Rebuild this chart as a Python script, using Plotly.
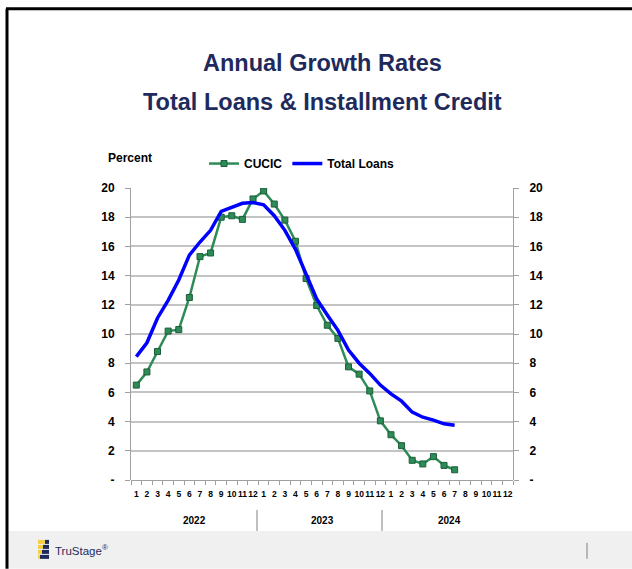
import plotly.graph_objects as go

# ---------------- data ----------------
years = ["2022", "2023", "2024"]
months = [str(m) for m in range(1, 13)]
tick_labels = months * 3
y_tick_vals = [0, 2, 4, 6, 8, 10, 12, 14, 16, 18, 20]
y_tick_text = ["-", "2", "4", "6", "8", "10", "12", "14", "16", "18", "20"]

cucic = [6.5, 7.4, 8.8, 10.2, 10.3, 12.5, 15.3, 15.55, 18.0, 18.1, 17.85, 19.25,
         19.8, 18.9, 17.8, 16.35, 13.8, 11.95, 10.6, 9.7, 7.75, 7.25, 6.1, 4.05,
         3.1, 2.35, 1.35, 1.1, 1.6, 1.0, 0.7]
total_loans = [8.45, 9.4, 11.1, 12.3, 13.7, 15.4, 16.3, 17.1, 18.4, 18.65, 18.95, 19.0,
               18.85, 18.1, 17.1, 15.8, 14.1, 12.4, 11.3, 10.25, 8.9, 8.0, 7.3, 6.5,
               5.9, 5.4, 4.65, 4.3, 4.1, 3.85, 3.75]

x_idx = list(range(len(cucic)))

# ---------------- geometry helpers (pixel -> paper) ----------------
W, H = 632, 569
L, R, T, B = 131, 513, 187.5, 480


def px(x):
    return (x - L) / (R - L)


def py(y):
    return (B - y) / (B - T)


FONT = "Liberation Sans, Arial, sans-serif"
NAVY = "#1f2a5c"

fig = go.Figure()

fig.add_trace(go.Scatter(
    x=x_idx, y=cucic, name="CUCIC", mode="lines+markers",
    line=dict(color="#2e8b57", width=2.5),
    marker=dict(symbol="square", size=6, color="#2e8b57",
                line=dict(color="#1b5e38", width=1)),
))
fig.add_trace(go.Scatter(
    x=x_idx, y=total_loans, name="Total Loans", mode="lines",
    line=dict(color="#0000ff", width=3.5),
))
# invisible trace to carry right axis
fig.add_trace(go.Scatter(
    x=x_idx, y=total_loans, yaxis="y2", mode="lines",
    line=dict(color="rgba(0,0,0,0)"), showlegend=False, hoverinfo="skip",
))

fig.update_layout(
    width=W, height=H,
    margin=dict(l=L, r=W - R, t=T, b=H - B, pad=0),
    paper_bgcolor="white", plot_bgcolor="white",
    font=dict(family=FONT, color="black", size=12),
    showlegend=True,
    legend=dict(
        orientation="h", x=px(204), y=py(163), xanchor="left", yanchor="middle",
        font=dict(family=FONT, size=12, color="black", weight="bold"),
        itemwidth=30, bgcolor="rgba(0,0,0,0)", traceorder="normal",
    ),
    xaxis=dict(
        range=[-0.5, 35.5], tickmode="array",
        tickvals=list(range(36)), ticktext=tick_labels, tickangle=0,
        ticks="", showgrid=False, zeroline=False,
        showline=False,
        tickfont=dict(family=FONT, size=8.5, weight="bold"),
        ticklabelstandoff=7,
        minor=dict(tickvals=[i - 0.5 for i in range(37)], ticks="outside",
                   ticklen=4, tickcolor="#a0a0a0", showgrid=False),
    ),
    yaxis=dict(
        range=[0, 20], tickmode="array", tickvals=y_tick_vals, ticktext=y_tick_text,
        ticks="outside", ticklen=5, tickcolor="#a0a0a0",
        showline=True, linecolor="#a0a0a0", linewidth=1,
        showgrid=True, gridcolor="#c4c4c4", gridwidth=1.5,
        zeroline=True, zerolinecolor="#a0a0a0", zerolinewidth=1,
        tickfont=dict(family=FONT, size=12, weight="bold"),
        ticklabelstandoff=8,
    ),
    yaxis2=dict(
        range=[0, 20], tickmode="array", tickvals=y_tick_vals, ticktext=y_tick_text,
        overlaying="y", side="right",
        ticks="outside", ticklen=5, tickcolor="#a0a0a0",
        showline=True, linecolor="#a0a0a0", linewidth=1,
        showgrid=False, zeroline=False,
        tickfont=dict(family=FONT, size=12, weight="bold"),
        ticklabelstandoff=8,
    ),
)

ann = []
for text, yy in [("Annual Growth Rates", 62), ("Total Loans & Installment Credit", 101)]:
    ann.append(dict(text="<b>" + text + "</b>", x=px(322), y=py(yy),
                    xref="paper", yref="paper", xanchor="center", yanchor="middle",
                    showarrow=False,
                    font=dict(family=FONT, size=23.5, color=NAVY)))
ann.append(dict(text="<b>Percent</b>", x=px(106), y=py(157), xref="paper", yref="paper",
                xanchor="left", yanchor="middle", showarrow=False,
                font=dict(family=FONT, size=12, color="black")))
for i, yr in enumerate(years):
    ann.append(dict(text="<b>" + yr + "</b>", x=i * 12 + 5.5, y=py(521),
                    xref="x", yref="paper", xanchor="center", yanchor="middle",
                    showarrow=False, font=dict(family=FONT, size=10, color="black")))
ann.append(dict(text="TruStage<sup>®</sup>", x=px(53), y=py(550), xref="paper", yref="paper",
                xanchor="left", yanchor="middle", showarrow=False,
                font=dict(family=FONT, size=11.5, color=NAVY)))
fig.update_layout(annotations=ann)

shapes = []
# footer band
shapes.append(dict(type="rect", xref="paper", yref="paper", x0=px(8), x1=px(632),
                   y0=py(531), y1=py(569), fillcolor="#f0f0f0", line=dict(width=0),
                   layer="below"))
# frame border
shapes.append(dict(type="line", xref="paper", yref="paper", x0=px(7), x1=px(7),
                   y0=py(8), y1=py(569), line=dict(color="black", width=3)))
shapes.append(dict(type="line", xref="paper", yref="paper", x0=px(6), x1=px(632),
                   y0=py(8), y1=py(8), line=dict(color="black", width=3)))
# year separators
for sx in [257, 382]:
    shapes.append(dict(type="line", xref="paper", yref="paper", x0=px(sx), x1=px(sx),
                       y0=py(510), y1=py(531), line=dict(color="#808080", width=1)))
# footer divider
shapes.append(dict(type="line", xref="paper", yref="paper", x0=px(587), x1=px(587),
                   y0=py(543), y1=py(559), line=dict(color="#808080", width=1)))
# logo icon (stair bars)
logo = [(38, 45, 540, "#f3cf47"), (45, 49, 540, NAVY),
        (38, 43, 545, "#f3cf47"), (43, 49, 545, NAVY),
        (38, 42, 550, "#f3cf47"), (42, 49, 550, NAVY),
        (38, 40, 555, "#f3cf47"), (40, 49, 555, NAVY)]
for x0, x1, y0, c in logo:
    shapes.append(dict(type="rect", xref="paper", yref="paper", x0=px(x0), x1=px(x1),
                       y0=py(y0 + 4), y1=py(y0), fillcolor=c, line=dict(width=0)))
fig.update_layout(shapes=shapes)

fig.write_html("out.html", config={"displayModeBar": False},
               post_script="document.body.style.margin='0';")
